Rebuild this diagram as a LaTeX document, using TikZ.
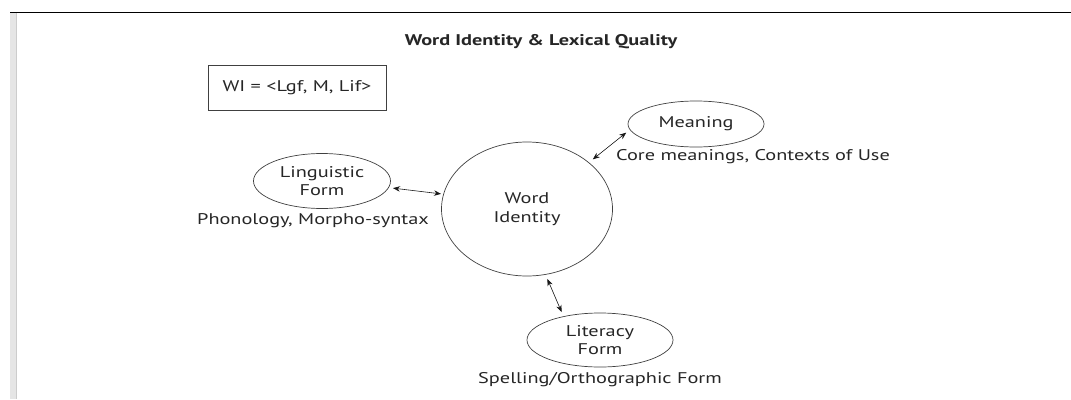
\documentclass[tikz,border=0pt]{standalone}
\usepackage{fontspec}
\setmainfont[FakeStretch=1.31]{PT Sans}
\usetikzlibrary{arrows.meta,shapes.geometric}
\begin{document}
\begin{tikzpicture}[x=1pt,y=-1pt,
  every node/.style={font=\fontsize{15.5}{18.5}\selectfont, text=black!85, inner sep=0pt},
  oval/.style={draw=black!75, line width=0.7pt, ellipse},
  link/.style={line width=0.6pt, black!90, {Stealth[length=7pt,width=5.5pt]}-{Stealth[length=7pt,width=5.5pt]}, shorten <=1pt, shorten >=1pt}]
  % page frame
  \useasboundingbox (0,0) rectangle (1071,399);
  \fill[black!10] (10,13) rectangle (16,399);
  \draw[black!20, line width=0.8pt] (16.5,13) -- (16.5,399);
  \draw[black, line width=1.4pt] (10,12.5) -- (1071,12.5);

  % title and formula
  \node (title) at (541,42) {\bfseries Word Identity \& Lexical Quality};
  \node[draw=black!75, line width=0.7pt, minimum width=178pt, minimum height=45pt] (wi) at (297,87.5) {WI = <Lgf, M, Lif>};

  % components
  \node[oval, minimum width=171pt, minimum height=134pt] (word) at (527,209) {};
  \node[align=center] (wordtxt) at (527,209) {Word\\Identity};

  \node[oval, minimum width=136pt, minimum height=46pt] (mean) at (696,124) {};
  \node (meantxt) at (696,124) {Meaning};
  \node (meancap) at (753,157) {Core meanings, Contexts of Use};

  \node[oval, minimum width=137pt, minimum height=55pt] (ling) at (322,181) {};
  \node[align=center] (lingtxt) at (322,181) {Linguistic\\Form};
  \node (lingcap) at (313,221) {Phonology, Morpho-syntax};

  \node[oval, minimum width=146pt, minimum height=54pt] (lit) at (600,340) {};
  \node[align=center] (littxt) at (600,340) {Literacy\\Form};
  \node (litcap) at (600,380) {Spelling/Orthographic Form};

  % links
  \coordinate (lingA) at (392,188);
  \coordinate (lingB) at (442,194);
  \coordinate (meanA) at (627,132);
  \coordinate (meanB) at (592,160);
  \coordinate (litA) at (547,278);
  \coordinate (litB) at (562,313);
  \draw[link] (lingA) -- (lingB);
  \draw[link] (meanA) -- (meanB);
  \draw[link] (litA) -- (litB);
\end{tikzpicture}
\end{document}
